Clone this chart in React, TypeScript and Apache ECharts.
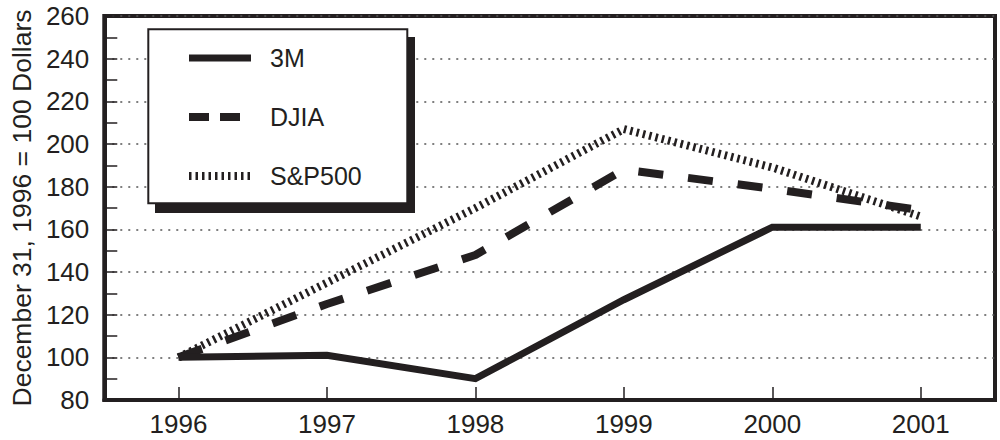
import React, { useEffect, useRef } from "react";
import * as echarts from "echarts";

const years = ["1996", "1997", "1998", "1999", "2000", "2001"];
const m3 = [100, 101, 90, 127, 161, 161];
const djia = [100, 125, 148, 188, 179, 169];
const sp500 = [100, 135, 170, 207, 189, 166];
const yMin = 80;
const yMax = 260;
const yStep = 20;

const INK = "#231f20";
const FONT = "'Liberation Sans', Arial, Helvetica, sans-serif";

export default function App() {
  const ref = useRef<HTMLDivElement>(null);
  useEffect(() => {
    if (!ref.current) return;
    const chart = echarts.init(ref.current, null, { renderer: "svg" });
    chart.setOption({
      animation: false,
      textStyle: { fontFamily: FONT, color: INK },
      grid: {
        left: 99,
        right: 5,
        top: 16,
        bottom: 40,
        show: true,
        borderColor: INK,
        borderWidth: 4,
        backgroundColor: "transparent",
      },
      xAxis: {
        type: "category",
        data: years,
        boundaryGap: true,
        axisLine: { show: true, lineStyle: { color: INK, width: 4 } },
        axisTick: {
          show: true,
          inside: true,
          alignWithLabel: true,
          length: 13,
          lineStyle: { color: INK, width: 1.5 },
        },
        axisLabel: { color: INK, fontSize: 26, fontFamily: FONT, margin: 11 },
        splitLine: { show: false },
      },
      yAxis: {
        type: "value",
        min: yMin,
        max: yMax,
        interval: yStep,
        name: "December 31, 1996 = 100 Dollars",
        nameLocation: "middle",
        nameGap: 64,
        nameTextStyle: { color: INK, fontSize: 26.5, fontFamily: FONT },
        axisLine: { show: true, lineStyle: { color: INK, width: 4 } },
        axisTick: {
          show: true,
          inside: true,
          length: 13,
          lineStyle: { color: INK, width: 1.5 },
        },
        minorTick: {
          show: true,
          splitNumber: 2,
          length: 13,
          lineStyle: { color: INK, width: 1.5 },
        },
        axisLabel: { color: INK, fontSize: 26, fontFamily: FONT, margin: 15 },
        splitLine: {
          show: true,
          lineStyle: { color: "#555", width: 1.5, type: [2, 6] },
        },
      },
      legend: {
        show: true,
        orient: "vertical",
        left: 185,
        top: 43,
        z: 10,
        itemWidth: 62,
        itemHeight: 30,
        itemGap: 29,
        padding: 0,
        inactiveColor: INK,
        selectedMode: false,
        itemStyle: { opacity: 0 },
        textStyle: {
          color: INK,
          fontSize: 25,
          fontFamily: FONT,
          lineHeight: 30,
          padding: [0, 0, 0, 14],
        },
        data: [
          { name: "3M", lineStyle: { width: 7, type: "solid", color: INK } },
          { name: "DJIA", lineStyle: { width: 8, type: [20, 11], color: INK } },
          { name: "S&P500", lineStyle: { width: 8, type: [2.5, 4], color: INK } },
        ],
      },
      graphic: [
        {
          type: "rect",
          z: 5,
          shape: { x: 155, y: 37, width: 260, height: 176 },
          style: { fill: INK },
        },
        {
          type: "rect",
          z: 6,
          shape: { x: 148.3, y: 29.3, width: 259, height: 174 },
          style: { fill: "#fff", stroke: INK, lineWidth: 2 },
        },
      ],
      series: [
        {
          name: "S&P500",
          type: "line",
          data: sp500,
          symbol: "none",
          z: 2,
          lineStyle: { color: INK, width: 8, type: [2.5, 4], cap: "butt" },
          itemStyle: { color: INK },
        },
        {
          name: "DJIA",
          type: "line",
          data: djia,
          symbol: "none",
          z: 3,
          lineStyle: { color: INK, width: 8, type: [25, 25], cap: "butt" },
          itemStyle: { color: INK },
        },
        {
          name: "3M",
          type: "line",
          data: m3,
          symbol: "none",
          z: 4,
          lineStyle: { color: INK, width: 7, type: "solid", cap: "butt", join: "miter" },
          itemStyle: { color: INK },
        },
      ],
    });
    return () => chart.dispose();
  }, []);
  return (
    <div
      ref={ref}
      style={{ position: "fixed", left: 0, top: 0, width: 1000, height: 440, background: "#fff" }}
    />
  );
}
